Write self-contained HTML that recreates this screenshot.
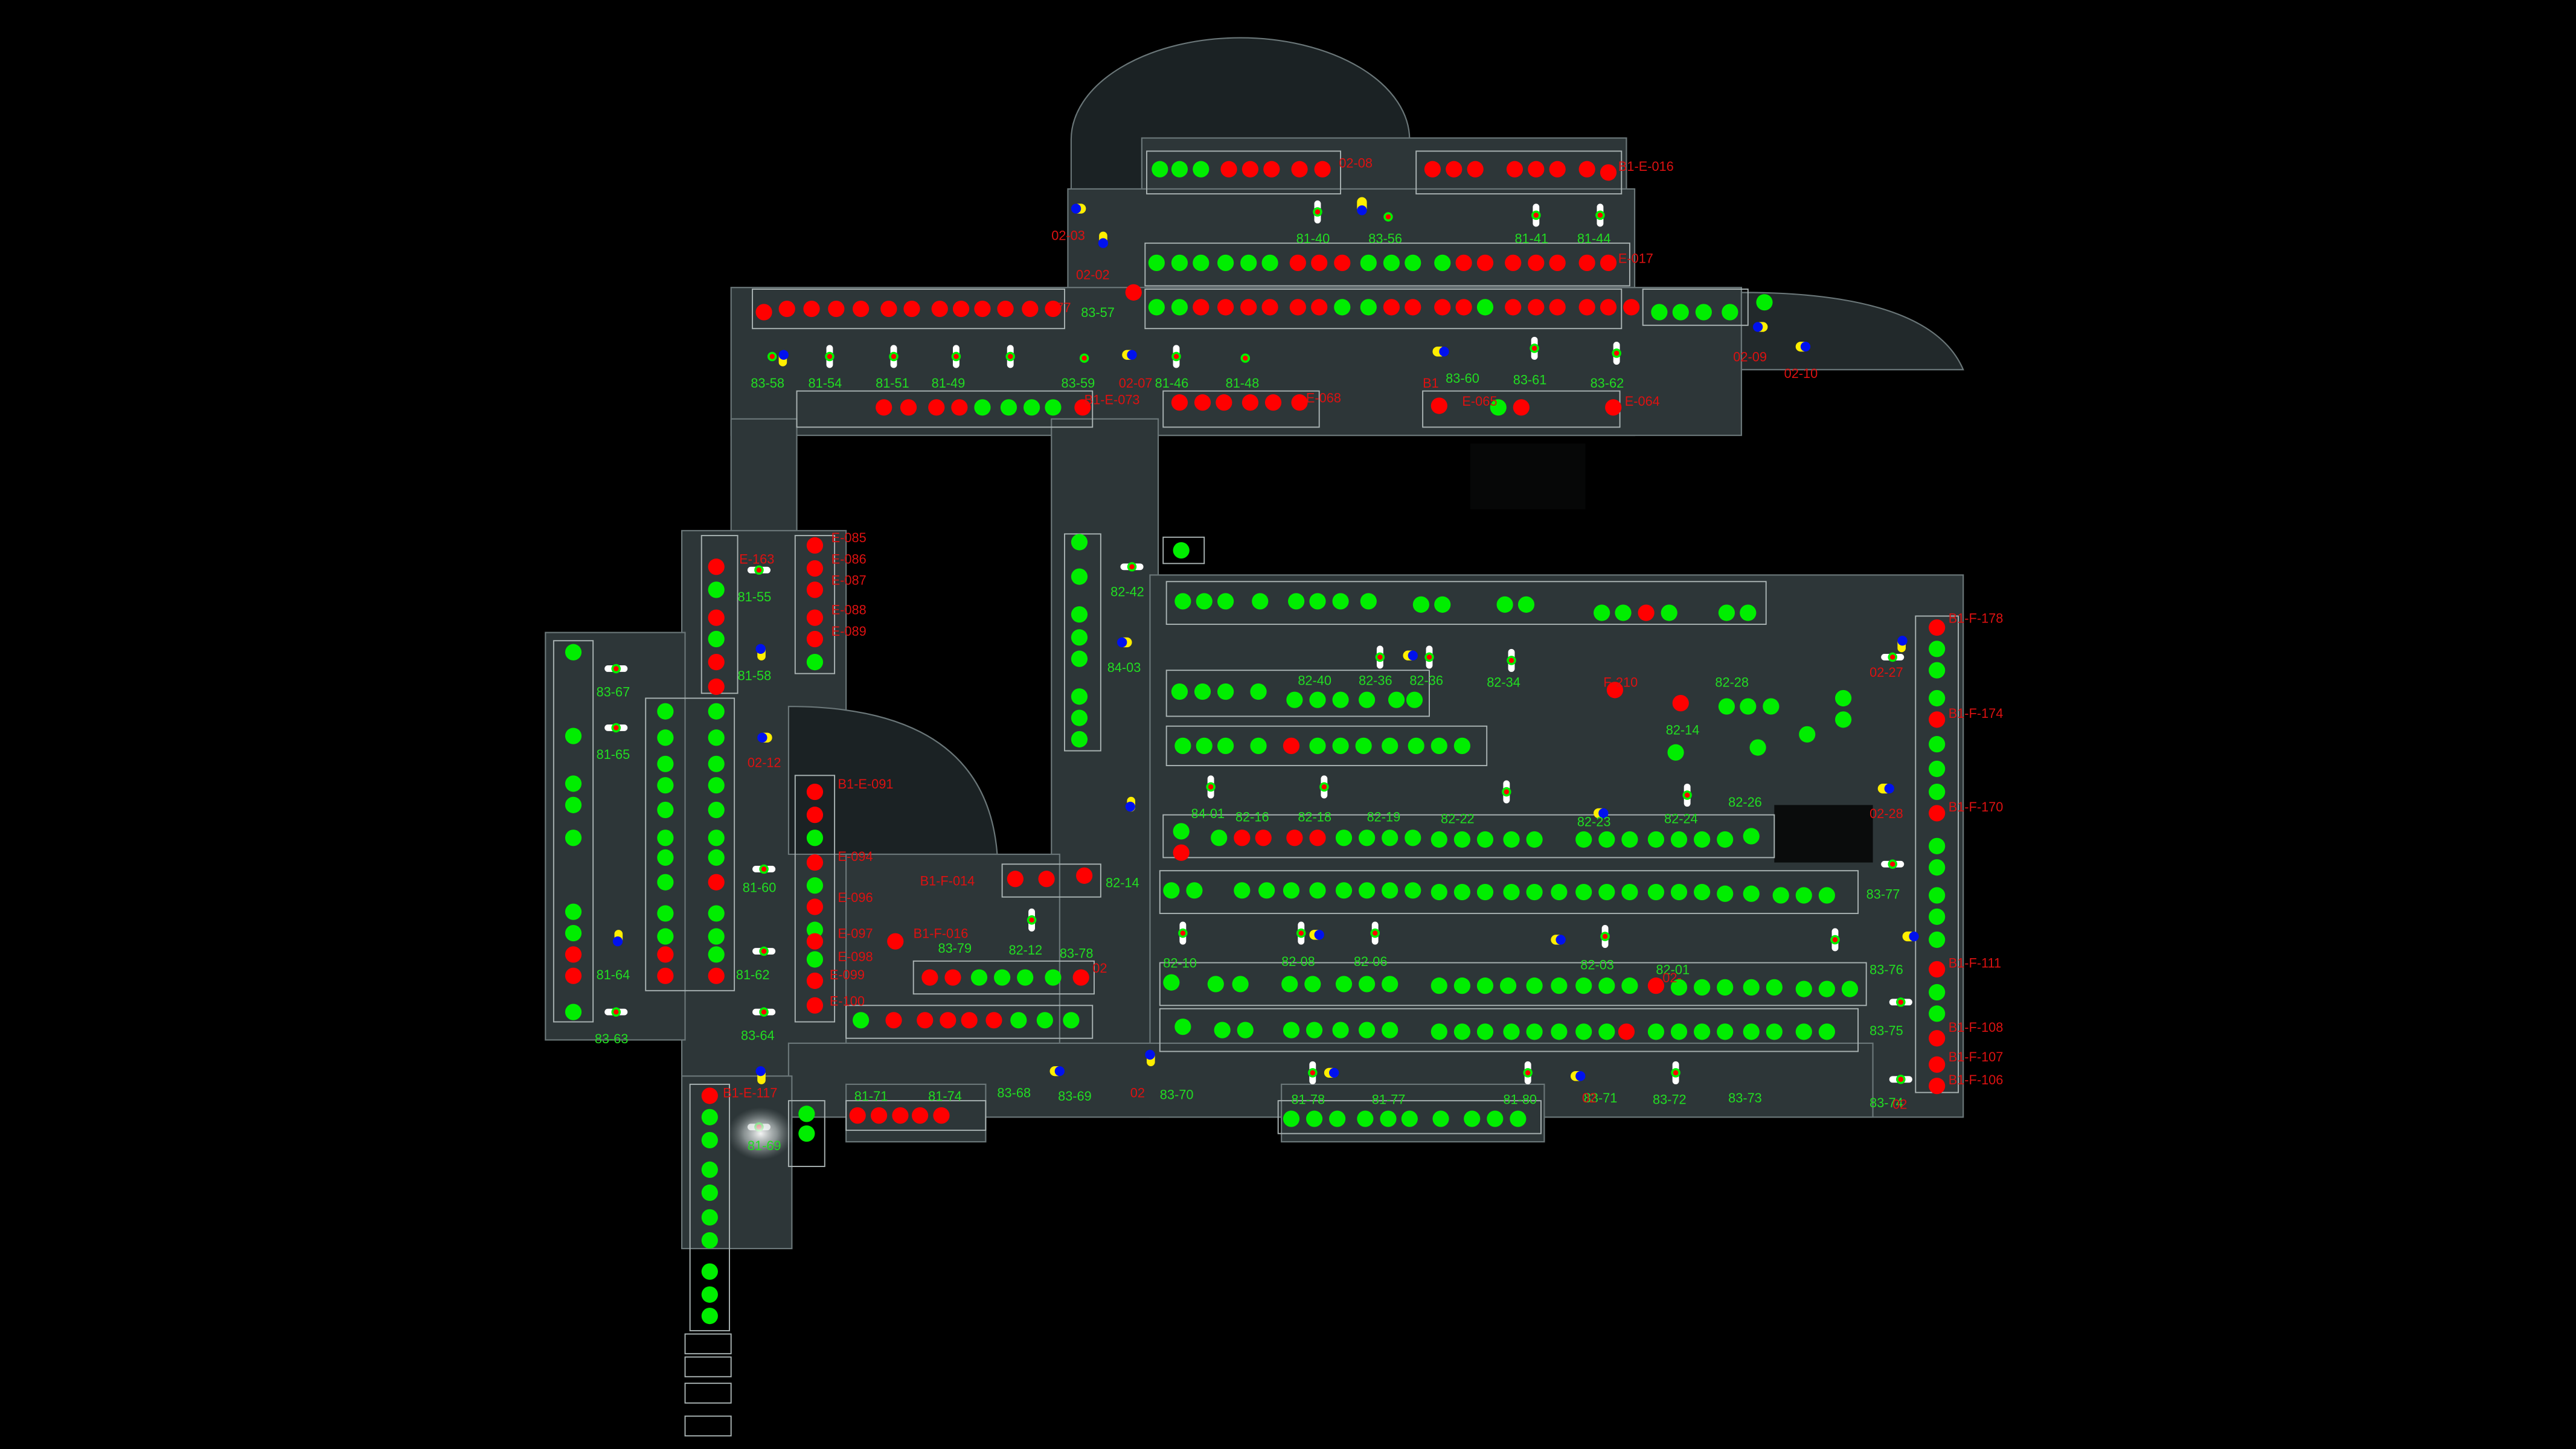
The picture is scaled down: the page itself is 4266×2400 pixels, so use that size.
<!DOCTYPE html>
<html><head><meta charset="utf-8"><style>
html,body{margin:0;padding:0;background:#000;width:4266px;height:2400px;overflow:hidden}
svg{display:block}
.g{fill:#00ee00}.r{fill:#ff0000}
.lg{fill:#22dd22;font:8px "Liberation Sans",sans-serif}
.lr{fill:#dd1111;font:8px "Liberation Sans",sans-serif}
.bx{fill:none;stroke:#aab4b4;stroke-width:0.7}
</style></head><body>
<svg width="4266" height="2400" viewBox="0 0 1568 882" preserveAspectRatio="none" xmlns="http://www.w3.org/2000/svg">
<defs><radialGradient id="glow"><stop offset="0" stop-color="#ffffff" stop-opacity="0.95"/><stop offset="0.5" stop-color="#c8d0d0" stop-opacity="0.6"/><stop offset="1" stop-color="#808888" stop-opacity="0"/></radialGradient></defs>
<rect width="1568" height="882" fill="#000"/>
<!-- floor -->
<g fill="#2d3638" stroke="#6a7678" stroke-width="0.8">
<path d="M652,140 L652,85 A103,62 0 0 1 858,85 L858,140 Z" fill="#1b2224"/>
<rect x="695" y="84" width="295" height="36"/>
<rect x="650" y="115" width="345" height="150"/>
<rect x="445" y="175" width="615" height="90"/>
<path d="M1060,178 Q1175,178 1195,225 L1060,225 Z" fill="#22292b"/>
<rect x="445" y="255" width="40" height="75"/>
<rect x="640" y="255" width="65" height="410"/>
<rect x="700" y="350" width="495" height="330"/>
<rect x="415" y="323" width="100" height="340"/>
<rect x="332" y="385" width="85" height="248"/>
<path d="M480,430 Q600,430 607,520 L480,520 Z" fill="#1b2224"/>
<rect x="515" y="520" width="130" height="120"/>
<rect x="480" y="635" width="660" height="45"/>
<rect x="515" y="660" width="85" height="35"/>
<rect x="780" y="660" width="160" height="35"/>
<rect x="415" y="655" width="67" height="105"/>
</g>
<rect x="1080" y="490" width="60" height="35" fill="#0a0c0c"/>
<rect x="895" y="270" width="70" height="40" fill="#0a0c0c" opacity="0.6"/>
<!-- bay boxes -->
<g class="bx">
<rect x="698" y="92" width="118" height="26"/><rect x="862" y="92" width="125" height="26"/>
<rect x="697" y="148" width="295" height="26"/><rect x="458" y="176" width="190" height="24"/>
<rect x="697" y="176" width="290" height="24"/><rect x="1000" y="176" width="64" height="22"/>
<rect x="485" y="238" width="180" height="22"/><rect x="708" y="238" width="95" height="22"/>
<rect x="866" y="238" width="120" height="22"/>
<rect x="427" y="326" width="22" height="96"/><rect x="484" y="326" width="24" height="84"/>
<rect x="648" y="325" width="22" height="132"/><rect x="708" y="327" width="25" height="16"/>
<rect x="710" y="354" width="365" height="26"/><rect x="710" y="408" width="160" height="28"/>
<rect x="710" y="442" width="195" height="24"/><rect x="1166" y="375" width="26" height="290"/>
<rect x="708" y="496" width="372" height="26"/><rect x="706" y="530" width="425" height="26"/>
<rect x="706" y="586" width="430" height="26"/><rect x="706" y="614" width="425" height="26"/>
<rect x="337" y="390" width="24" height="232"/><rect x="393" y="425" width="54" height="178"/>
<rect x="484" y="472" width="24" height="150"/><rect x="556" y="585" width="110" height="20"/>
<rect x="515" y="612" width="150" height="20"/><rect x="610" y="526" width="60" height="20"/>
<rect x="420" y="660" width="24" height="150"/><rect x="480" y="670" width="22" height="40"/>
<rect x="515" y="670" width="85" height="18"/><rect x="778" y="670" width="160" height="20"/>
<rect x="417" y="812" width="28" height="12"/><rect x="417" y="826" width="28" height="12"/>
<rect x="417" y="842" width="28" height="12"/><rect x="417" y="862" width="28" height="12"/>
</g>
<!-- green dots -->
<g class="g">
<circle cx="706" cy="103" r="5"/><circle cx="718" cy="103" r="5"/><circle cx="731" cy="103" r="5"/>
<circle cx="704" cy="160" r="5"/><circle cx="718" cy="160" r="5"/><circle cx="731" cy="160" r="5"/><circle cx="746" cy="160" r="5"/><circle cx="760" cy="160" r="5"/><circle cx="773" cy="160" r="5"/><circle cx="833" cy="160" r="5"/><circle cx="847" cy="160" r="5"/><circle cx="860" cy="160" r="5"/><circle cx="878" cy="160" r="5"/>
<circle cx="704" cy="187" r="5"/><circle cx="718" cy="187" r="5"/><circle cx="817" cy="187" r="5"/><circle cx="833" cy="187" r="5"/><circle cx="904" cy="187" r="5"/><circle cx="1010" cy="190" r="5"/><circle cx="1023" cy="190" r="5"/><circle cx="1037" cy="190" r="5"/><circle cx="1053" cy="190" r="5"/><circle cx="1074" cy="184" r="5"/>
<circle cx="598" cy="248" r="5"/><circle cx="614" cy="248" r="5"/><circle cx="628" cy="248" r="5"/><circle cx="641" cy="248" r="5"/><circle cx="912" cy="248" r="5"/>
<circle cx="436" cy="359" r="5"/><circle cx="436" cy="389" r="5"/><circle cx="496" cy="403" r="5"/>
<circle cx="657" cy="330" r="5"/><circle cx="657" cy="351" r="5"/><circle cx="657" cy="374" r="5"/><circle cx="657" cy="388" r="5"/><circle cx="657" cy="401" r="5"/><circle cx="657" cy="424" r="5"/><circle cx="657" cy="437" r="5"/><circle cx="657" cy="450" r="5"/><circle cx="719" cy="335" r="5"/>
<circle cx="720" cy="366" r="5"/><circle cx="733" cy="366" r="5"/><circle cx="746" cy="366" r="5"/><circle cx="767" cy="366" r="5"/><circle cx="789" cy="366" r="5"/><circle cx="802" cy="366" r="5"/><circle cx="816" cy="366" r="5"/><circle cx="833" cy="366" r="5"/><circle cx="865" cy="368" r="5"/><circle cx="878" cy="368" r="5"/><circle cx="916" cy="368" r="5"/><circle cx="929" cy="368" r="5"/><circle cx="975" cy="373" r="5"/><circle cx="988" cy="373" r="5"/><circle cx="1016" cy="373" r="5"/><circle cx="1051" cy="373" r="5"/><circle cx="1064" cy="373" r="5"/>
<circle cx="718" cy="421" r="5"/><circle cx="732" cy="421" r="5"/><circle cx="746" cy="421" r="5"/><circle cx="766" cy="421" r="5"/><circle cx="788" cy="426" r="5"/><circle cx="802" cy="426" r="5"/><circle cx="816" cy="426" r="5"/><circle cx="832" cy="426" r="5"/><circle cx="850" cy="426" r="5"/><circle cx="861" cy="426" r="5"/>
<circle cx="1051" cy="430" r="5"/><circle cx="1064" cy="430" r="5"/><circle cx="1078" cy="430" r="5"/><circle cx="1122" cy="425" r="5"/><circle cx="1122" cy="438" r="5"/>
<circle cx="720" cy="454" r="5"/><circle cx="733" cy="454" r="5"/><circle cx="746" cy="454" r="5"/><circle cx="766" cy="454" r="5"/><circle cx="802" cy="454" r="5"/><circle cx="816" cy="454" r="5"/><circle cx="830" cy="454" r="5"/><circle cx="846" cy="454" r="5"/><circle cx="862" cy="454" r="5"/><circle cx="876" cy="454" r="5"/><circle cx="890" cy="454" r="5"/><circle cx="1020" cy="458" r="5"/><circle cx="1070" cy="455" r="5"/><circle cx="1100" cy="447" r="5"/>
<circle cx="1179" cy="395" r="5"/><circle cx="1179" cy="408" r="5"/><circle cx="1179" cy="425" r="5"/><circle cx="1179" cy="453" r="5"/><circle cx="1179" cy="468" r="5"/><circle cx="1179" cy="482" r="5"/><circle cx="1179" cy="515" r="5"/><circle cx="1179" cy="528" r="5"/><circle cx="1179" cy="545" r="5"/><circle cx="1179" cy="558" r="5"/><circle cx="1179" cy="572" r="5"/><circle cx="1179" cy="604" r="5"/><circle cx="1179" cy="617" r="5"/>
<circle cx="719" cy="506" r="5"/><circle cx="742" cy="510" r="5"/><circle cx="818" cy="510" r="5"/><circle cx="832" cy="510" r="5"/><circle cx="846" cy="510" r="5"/><circle cx="860" cy="510" r="5"/><circle cx="876" cy="511" r="5"/><circle cx="890" cy="511" r="5"/><circle cx="904" cy="511" r="5"/><circle cx="920" cy="511" r="5"/><circle cx="934" cy="511" r="5"/><circle cx="964" cy="511" r="5"/><circle cx="978" cy="511" r="5"/><circle cx="992" cy="511" r="5"/><circle cx="1008" cy="511" r="5"/><circle cx="1022" cy="511" r="5"/><circle cx="1036" cy="511" r="5"/><circle cx="1050" cy="511" r="5"/><circle cx="1066" cy="509" r="5"/>
<circle cx="713" cy="542" r="5"/><circle cx="727" cy="542" r="5"/><circle cx="756" cy="542" r="5"/><circle cx="771" cy="542" r="5"/><circle cx="786" cy="542" r="5"/><circle cx="802" cy="542" r="5"/><circle cx="818" cy="542" r="5"/><circle cx="832" cy="542" r="5"/><circle cx="846" cy="542" r="5"/><circle cx="860" cy="542" r="5"/><circle cx="876" cy="543" r="5"/><circle cx="890" cy="543" r="5"/><circle cx="904" cy="543" r="5"/><circle cx="920" cy="543" r="5"/><circle cx="934" cy="543" r="5"/><circle cx="949" cy="543" r="5"/><circle cx="964" cy="543" r="5"/><circle cx="978" cy="543" r="5"/><circle cx="992" cy="543" r="5"/><circle cx="1008" cy="543" r="5"/><circle cx="1022" cy="543" r="5"/><circle cx="1036" cy="543" r="5"/><circle cx="1050" cy="544" r="5"/><circle cx="1066" cy="544" r="5"/><circle cx="1084" cy="545" r="5"/><circle cx="1098" cy="545" r="5"/><circle cx="1112" cy="545" r="5"/>
<circle cx="713" cy="598" r="5"/><circle cx="740" cy="599" r="5"/><circle cx="755" cy="599" r="5"/><circle cx="785" cy="599" r="5"/><circle cx="799" cy="599" r="5"/><circle cx="818" cy="599" r="5"/><circle cx="832" cy="599" r="5"/><circle cx="846" cy="599" r="5"/><circle cx="876" cy="600" r="5"/><circle cx="890" cy="600" r="5"/><circle cx="904" cy="600" r="5"/><circle cx="918" cy="600" r="5"/><circle cx="934" cy="600" r="5"/><circle cx="949" cy="600" r="5"/><circle cx="964" cy="600" r="5"/><circle cx="978" cy="600" r="5"/><circle cx="992" cy="600" r="5"/><circle cx="1022" cy="601" r="5"/><circle cx="1036" cy="601" r="5"/><circle cx="1050" cy="601" r="5"/><circle cx="1066" cy="601" r="5"/><circle cx="1080" cy="601" r="5"/><circle cx="1098" cy="602" r="5"/><circle cx="1112" cy="602" r="5"/><circle cx="1126" cy="602" r="5"/>
<circle cx="720" cy="625" r="5"/><circle cx="744" cy="627" r="5"/><circle cx="758" cy="627" r="5"/><circle cx="786" cy="627" r="5"/><circle cx="800" cy="627" r="5"/><circle cx="816" cy="627" r="5"/><circle cx="832" cy="627" r="5"/><circle cx="846" cy="627" r="5"/><circle cx="876" cy="628" r="5"/><circle cx="890" cy="628" r="5"/><circle cx="904" cy="628" r="5"/><circle cx="920" cy="628" r="5"/><circle cx="934" cy="628" r="5"/><circle cx="949" cy="628" r="5"/><circle cx="964" cy="628" r="5"/><circle cx="978" cy="628" r="5"/><circle cx="1008" cy="628" r="5"/><circle cx="1022" cy="628" r="5"/><circle cx="1036" cy="628" r="5"/><circle cx="1050" cy="628" r="5"/><circle cx="1066" cy="628" r="5"/><circle cx="1080" cy="628" r="5"/><circle cx="1098" cy="628" r="5"/><circle cx="1112" cy="628" r="5"/>
<circle cx="349" cy="397" r="5"/><circle cx="349" cy="448" r="5"/><circle cx="349" cy="477" r="5"/><circle cx="349" cy="490" r="5"/><circle cx="349" cy="510" r="5"/><circle cx="349" cy="555" r="5"/><circle cx="349" cy="568" r="5"/><circle cx="349" cy="616" r="5"/>
<circle cx="405" cy="433" r="5"/><circle cx="405" cy="449" r="5"/><circle cx="405" cy="465" r="5"/><circle cx="405" cy="478" r="5"/><circle cx="405" cy="493" r="5"/><circle cx="405" cy="510" r="5"/><circle cx="405" cy="522" r="5"/><circle cx="405" cy="537" r="5"/><circle cx="405" cy="556" r="5"/><circle cx="405" cy="570" r="5"/>
<circle cx="436" cy="433" r="5"/><circle cx="436" cy="449" r="5"/><circle cx="436" cy="465" r="5"/><circle cx="436" cy="478" r="5"/><circle cx="436" cy="493" r="5"/><circle cx="436" cy="510" r="5"/><circle cx="436" cy="522" r="5"/><circle cx="436" cy="556" r="5"/><circle cx="436" cy="570" r="5"/><circle cx="436" cy="581" r="5"/>
<circle cx="496" cy="510" r="5"/><circle cx="496" cy="539" r="5"/><circle cx="496" cy="566" r="5"/><circle cx="496" cy="584" r="5"/>
<circle cx="596" cy="595" r="5"/><circle cx="610" cy="595" r="5"/><circle cx="624" cy="595" r="5"/><circle cx="641" cy="595" r="5"/>
<circle cx="524" cy="621" r="5"/><circle cx="620" cy="621" r="5"/><circle cx="636" cy="621" r="5"/><circle cx="652" cy="621" r="5"/>
<circle cx="432" cy="680" r="5"/><circle cx="432" cy="694" r="5"/><circle cx="432" cy="712" r="5"/><circle cx="432" cy="726" r="5"/><circle cx="432" cy="741" r="5"/><circle cx="432" cy="755" r="5"/><circle cx="432" cy="774" r="5"/><circle cx="432" cy="788" r="5"/><circle cx="432" cy="801" r="5"/><circle cx="491" cy="678" r="5"/><circle cx="491" cy="690" r="5"/>
<circle cx="786" cy="681" r="5"/><circle cx="800" cy="681" r="5"/><circle cx="814" cy="681" r="5"/><circle cx="831" cy="681" r="5"/><circle cx="845" cy="681" r="5"/><circle cx="858" cy="681" r="5"/><circle cx="877" cy="681" r="5"/><circle cx="896" cy="681" r="5"/><circle cx="910" cy="681" r="5"/><circle cx="924" cy="681" r="5"/>
</g>
<!-- red dots -->
<g class="r">
<circle cx="748" cy="103" r="5"/><circle cx="761" cy="103" r="5"/><circle cx="774" cy="103" r="5"/><circle cx="791" cy="103" r="5"/><circle cx="805" cy="103" r="5"/><circle cx="872" cy="103" r="5"/><circle cx="885" cy="103" r="5"/><circle cx="898" cy="103" r="5"/><circle cx="922" cy="103" r="5"/><circle cx="935" cy="103" r="5"/><circle cx="948" cy="103" r="5"/><circle cx="966" cy="103" r="5"/><circle cx="979" cy="105" r="5"/>
<circle cx="790" cy="160" r="5"/><circle cx="803" cy="160" r="5"/><circle cx="817" cy="160" r="5"/><circle cx="891" cy="160" r="5"/><circle cx="904" cy="160" r="5"/><circle cx="921" cy="160" r="5"/><circle cx="935" cy="160" r="5"/><circle cx="948" cy="160" r="5"/><circle cx="966" cy="160" r="5"/><circle cx="979" cy="160" r="5"/>
<circle cx="465" cy="190" r="5"/><circle cx="479" cy="188" r="5"/><circle cx="494" cy="188" r="5"/><circle cx="509" cy="188" r="5"/><circle cx="524" cy="188" r="5"/><circle cx="541" cy="188" r="5"/><circle cx="555" cy="188" r="5"/><circle cx="572" cy="188" r="5"/><circle cx="585" cy="188" r="5"/><circle cx="598" cy="188" r="5"/><circle cx="612" cy="188" r="5"/><circle cx="627" cy="188" r="5"/><circle cx="641" cy="188" r="5"/><circle cx="690" cy="178" r="5"/>
<circle cx="731" cy="187" r="5"/><circle cx="746" cy="187" r="5"/><circle cx="760" cy="187" r="5"/><circle cx="773" cy="187" r="5"/><circle cx="790" cy="187" r="5"/><circle cx="803" cy="187" r="5"/><circle cx="847" cy="187" r="5"/><circle cx="860" cy="187" r="5"/><circle cx="878" cy="187" r="5"/><circle cx="891" cy="187" r="5"/><circle cx="921" cy="187" r="5"/><circle cx="935" cy="187" r="5"/><circle cx="948" cy="187" r="5"/><circle cx="966" cy="187" r="5"/><circle cx="979" cy="187" r="5"/><circle cx="993" cy="187" r="5"/>
<circle cx="538" cy="248" r="5"/><circle cx="553" cy="248" r="5"/><circle cx="570" cy="248" r="5"/><circle cx="584" cy="248" r="5"/><circle cx="659" cy="248" r="5"/><circle cx="718" cy="245" r="5"/><circle cx="732" cy="245" r="5"/><circle cx="745" cy="245" r="5"/><circle cx="761" cy="245" r="5"/><circle cx="775" cy="245" r="5"/><circle cx="791" cy="245" r="5"/><circle cx="876" cy="247" r="5"/><circle cx="926" cy="248" r="5"/><circle cx="982" cy="248" r="5"/>
<circle cx="436" cy="345" r="5"/><circle cx="436" cy="376" r="5"/><circle cx="436" cy="403" r="5"/><circle cx="436" cy="418" r="5"/>
<circle cx="496" cy="332" r="5"/><circle cx="496" cy="346" r="5"/><circle cx="496" cy="359" r="5"/><circle cx="496" cy="376" r="5"/><circle cx="496" cy="389" r="5"/>
<circle cx="1002" cy="373" r="5"/><circle cx="983" cy="420" r="5"/><circle cx="1023" cy="428" r="5"/><circle cx="786" cy="454" r="5"/>
<circle cx="1179" cy="382" r="5"/><circle cx="1179" cy="438" r="5"/><circle cx="1179" cy="495" r="5"/><circle cx="1179" cy="590" r="5"/><circle cx="1179" cy="632" r="5"/><circle cx="1179" cy="648" r="5"/><circle cx="1179" cy="661" r="5"/>
<circle cx="756" cy="510" r="5"/><circle cx="769" cy="510" r="5"/><circle cx="788" cy="510" r="5"/><circle cx="802" cy="510" r="5"/><circle cx="719" cy="519" r="5"/>
<circle cx="1008" cy="600" r="5"/><circle cx="990" cy="628" r="5"/>
<circle cx="349" cy="581" r="5"/><circle cx="349" cy="594" r="5"/><circle cx="405" cy="581" r="5"/><circle cx="405" cy="594" r="5"/><circle cx="436" cy="537" r="5"/><circle cx="436" cy="594" r="5"/>
<circle cx="496" cy="482" r="5"/><circle cx="496" cy="496" r="5"/><circle cx="496" cy="525" r="5"/><circle cx="496" cy="552" r="5"/><circle cx="496" cy="573" r="5"/><circle cx="496" cy="597" r="5"/><circle cx="496" cy="612" r="5"/><circle cx="545" cy="573" r="5"/>
<circle cx="566" cy="595" r="5"/><circle cx="580" cy="595" r="5"/><circle cx="658" cy="595" r="5"/>
<circle cx="544" cy="621" r="5"/><circle cx="563" cy="621" r="5"/><circle cx="577" cy="621" r="5"/><circle cx="590" cy="621" r="5"/><circle cx="605" cy="621" r="5"/>
<circle cx="618" cy="535" r="5"/><circle cx="637" cy="535" r="5"/><circle cx="660" cy="533" r="5"/>
<circle cx="432" cy="667" r="5"/><circle cx="522" cy="679" r="5"/><circle cx="535" cy="679" r="5"/><circle cx="548" cy="679" r="5"/><circle cx="560" cy="679" r="5"/><circle cx="573" cy="679" r="5"/>
</g>
<!-- markers: white pill + green ring/red dot -->
<g>
<g fill="#fff"><rect x="800" y="122" width="4" height="14" rx="2"/><rect x="933" y="124" width="4" height="14" rx="2"/><rect x="972" y="124" width="4" height="14" rx="2"/><rect x="503" y="210" width="4" height="14" rx="2"/><rect x="542" y="210" width="4" height="14" rx="2"/><rect x="580" y="210" width="4" height="14" rx="2"/><rect x="613" y="210" width="4" height="14" rx="2"/><rect x="714" y="210" width="4" height="14" rx="2"/><rect x="932" y="205" width="4" height="14" rx="2"/><rect x="982" y="208" width="4" height="14" rx="2"/><rect x="682" y="343" width="14" height="4" rx="2"/><rect x="455" y="345" width="14" height="4" rx="2"/><rect x="368" y="405" width="14" height="4" rx="2"/><rect x="838" y="393" width="4" height="14" rx="2"/><rect x="868" y="393" width="4" height="14" rx="2"/><rect x="918" y="395" width="4" height="14" rx="2"/><rect x="735" y="472" width="4" height="14" rx="2"/><rect x="804" y="472" width="4" height="14" rx="2"/><rect x="915" y="475" width="4" height="14" rx="2"/><rect x="1025" y="477" width="4" height="14" rx="2"/><rect x="718" y="561" width="4" height="14" rx="2"/><rect x="790" y="561" width="4" height="14" rx="2"/><rect x="835" y="561" width="4" height="14" rx="2"/><rect x="975" y="563" width="4" height="14" rx="2"/><rect x="1115" y="565" width="4" height="14" rx="2"/><rect x="797" y="646" width="4" height="14" rx="2"/><rect x="928" y="646" width="4" height="14" rx="2"/><rect x="1018" y="646" width="4" height="14" rx="2"/><rect x="626" y="553" width="4" height="14" rx="2"/><rect x="458" y="577" width="14" height="4" rx="2"/><rect x="458" y="527" width="14" height="4" rx="2"/><rect x="458" y="614" width="14" height="4" rx="2"/><rect x="368" y="614" width="14" height="4" rx="2"/><rect x="368" y="441" width="14" height="4" rx="2"/><rect x="455" y="684" width="14" height="4" rx="2"/><rect x="1145" y="398" width="14" height="4" rx="2"/><rect x="1145" y="524" width="14" height="4" rx="2"/><rect x="1150" y="655" width="14" height="4" rx="2"/><rect x="1150" y="608" width="14" height="4" rx="2"/></g>
<g fill="#ff0000" stroke="#00ee00" stroke-width="1.3"><circle cx="802" cy="129" r="2.2"/><circle cx="935" cy="131" r="2.2"/><circle cx="974" cy="131" r="2.2"/><circle cx="505" cy="217" r="2.2"/><circle cx="544" cy="217" r="2.2"/><circle cx="582" cy="217" r="2.2"/><circle cx="615" cy="217" r="2.2"/><circle cx="716" cy="217" r="2.2"/><circle cx="934" cy="212" r="2.2"/><circle cx="984" cy="215" r="2.2"/><circle cx="689" cy="345" r="2.2"/><circle cx="462" cy="347" r="2.2"/><circle cx="375" cy="407" r="2.2"/><circle cx="840" cy="400" r="2.2"/><circle cx="870" cy="400" r="2.2"/><circle cx="920" cy="402" r="2.2"/><circle cx="737" cy="479" r="2.2"/><circle cx="806" cy="479" r="2.2"/><circle cx="917" cy="482" r="2.2"/><circle cx="1027" cy="484" r="2.2"/><circle cx="720" cy="568" r="2.2"/><circle cx="792" cy="568" r="2.2"/><circle cx="837" cy="568" r="2.2"/><circle cx="977" cy="570" r="2.2"/><circle cx="1117" cy="572" r="2.2"/><circle cx="799" cy="653" r="2.2"/><circle cx="930" cy="653" r="2.2"/><circle cx="1020" cy="653" r="2.2"/><circle cx="628" cy="560" r="2.2"/><circle cx="465" cy="579" r="2.2"/><circle cx="465" cy="529" r="2.2"/><circle cx="465" cy="616" r="2.2"/><circle cx="375" cy="616" r="2.2"/><circle cx="375" cy="443" r="2.2"/><circle cx="462" cy="686" r="2.2"/><circle cx="1152" cy="400" r="2.2"/><circle cx="1152" cy="526" r="2.2"/><circle cx="1157" cy="657" r="2.2"/><circle cx="1157" cy="610" r="2.2"/><circle cx="660" cy="218" r="2.2"/><circle cx="758" cy="218" r="2.2"/><circle cx="845" cy="132" r="2.2"/><circle cx="470" cy="217" r="2.2"/></g>
<!-- yellow/blue -->
<g><rect x="653" y="124" width="8" height="6" rx="3" fill="#ffee00"/><circle cx="655" cy="127" r="3" fill="#0011ee"/>
<rect x="669" y="141" width="5" height="9" rx="2.5" fill="#ffee00"/><circle cx="671.5" cy="148" r="3" fill="#0011ee"/>
<rect x="826" y="120" width="6" height="10" rx="3" fill="#ffee00"/><circle cx="829" cy="128" r="3" fill="#0011ee"/>
<rect x="683" y="213" width="8" height="6" rx="3" fill="#ffee00"/><circle cx="689" cy="216" r="3" fill="#0011ee"/>
<rect x="872" y="211" width="8" height="6" rx="3" fill="#ffee00"/><circle cx="879" cy="214" r="3" fill="#0011ee"/>
<rect x="1068" y="196" width="8" height="6" rx="3" fill="#ffee00"/><circle cx="1070" cy="199" r="3" fill="#0011ee"/>
<rect x="1093" y="208" width="8" height="6" rx="3" fill="#ffee00"/><circle cx="1099" cy="211" r="3" fill="#0011ee"/>
<rect x="474" y="214" width="5" height="9" rx="2.5" fill="#ffee00"/><circle cx="477" cy="216" r="3" fill="#0011ee"/>
<rect x="681" y="388" width="8" height="6" rx="3" fill="#ffee00"/><circle cx="683" cy="391" r="3" fill="#0011ee"/>
<rect x="854" y="396" width="8" height="6" rx="3" fill="#ffee00"/><circle cx="860" cy="399" r="3" fill="#0011ee"/>
<rect x="462" y="446" width="8" height="6" rx="3" fill="#ffee00"/><circle cx="464" cy="449" r="3" fill="#0011ee"/>
<rect x="461" y="393" width="5" height="9" rx="2.5" fill="#ffee00"/><circle cx="463" cy="395" r="3" fill="#0011ee"/>
<rect x="686" y="485" width="5" height="9" rx="2.5" fill="#ffee00"/><circle cx="688" cy="491" r="3" fill="#0011ee"/>
<rect x="970" y="492" width="8" height="6" rx="3" fill="#ffee00"/><circle cx="976" cy="495" r="3" fill="#0011ee"/>
<rect x="797" y="566" width="8" height="6" rx="3" fill="#ffee00"/><circle cx="803" cy="569" r="3" fill="#0011ee"/>
<rect x="944" y="569" width="8" height="6" rx="3" fill="#ffee00"/><circle cx="950" cy="572" r="3" fill="#0011ee"/>
<rect x="374" y="566" width="5" height="9" rx="2.5" fill="#ffee00"/><circle cx="376" cy="573" r="3" fill="#0011ee"/>
<rect x="639" y="649" width="8" height="6" rx="3" fill="#ffee00"/><circle cx="645" cy="652" r="3" fill="#0011ee"/>
<rect x="806" y="650" width="8" height="6" rx="3" fill="#ffee00"/><circle cx="812" cy="653" r="3" fill="#0011ee"/>
<rect x="956" y="652" width="8" height="6" rx="3" fill="#ffee00"/><circle cx="962" cy="655" r="3" fill="#0011ee"/>
<rect x="461" y="651" width="5" height="9" rx="2.5" fill="#ffee00"/><circle cx="463" cy="652" r="3" fill="#0011ee"/>
<rect x="1155" y="388" width="5" height="9" rx="2.5" fill="#ffee00"/><circle cx="1158" cy="390" r="3" fill="#0011ee"/>
<rect x="1143" y="477" width="8" height="6" rx="3" fill="#ffee00"/><circle cx="1150" cy="480" r="3" fill="#0011ee"/>
<rect x="1158" y="567" width="8" height="6" rx="3" fill="#ffee00"/><circle cx="1165" cy="570" r="3" fill="#0011ee"/>
<rect x="698" y="640" width="5" height="9" rx="2.5" fill="#ffee00"/><circle cx="700" cy="642" r="3" fill="#0011ee"/>
</g>
</g>
<!-- bright spot -->
<ellipse cx="463" cy="690" rx="20" ry="16" fill="url(#glow)"/>
<!-- labels -->
<g class="lg">
<text x="789" y="148">81-40</text><text x="833" y="148">83-56</text><text x="922" y="148">81-41</text><text x="960" y="148">81-44</text>
<text x="658" y="193">83-57</text><text x="457" y="236">83-58</text><text x="492" y="236">81-54</text><text x="533" y="236">81-51</text><text x="567" y="236">81-49</text><text x="646" y="236">83-59</text><text x="703" y="236">81-46</text><text x="746" y="236">81-48</text><text x="880" y="233">83-60</text><text x="921" y="234">83-61</text><text x="968" y="236">83-62</text>
<text x="449" y="366">81-55</text><text x="449" y="414">81-58</text><text x="363" y="424">83-67</text><text x="363" y="462">81-65</text><text x="676" y="363">82-42</text><text x="674" y="409">84-03</text>
<text x="790" y="417">82-40</text><text x="827" y="417">82-36</text><text x="858" y="417">82-36</text><text x="905" y="418">82-34</text><text x="1044" y="418">82-28</text><text x="1014" y="447">82-14</text>
<text x="725" y="498">84-01</text><text x="752" y="500">82-16</text><text x="790" y="500">82-18</text><text x="832" y="500">82-19</text><text x="877" y="501">82-22</text><text x="960" y="503">82-23</text><text x="1013" y="501">82-24</text><text x="1052" y="491">82-26</text>
<text x="452" y="543">81-60</text><text x="673" y="540">82-14</text><text x="1136" y="547">83-77</text><text x="571" y="580">83-79</text><text x="614" y="581">82-12</text><text x="645" y="583">83-78</text><text x="708" y="589">82-10</text><text x="780" y="588">82-08</text><text x="824" y="588">82-06</text><text x="962" y="590">82-03</text><text x="1008" y="593">82-01</text><text x="1138" y="593">83-76</text><text x="1138" y="630">83-75</text>
<text x="448" y="596">81-62</text><text x="363" y="596">81-64</text><text x="362" y="635">83-63</text><text x="451" y="633">83-64</text>
<text x="520" y="670">81-71</text><text x="565" y="670">81-74</text><text x="607" y="668">83-68</text><text x="644" y="670">83-69</text><text x="706" y="669">83-70</text><text x="786" y="672">81-78</text><text x="835" y="672">81-77</text><text x="915" y="672">81-80</text><text x="964" y="671">83-71</text><text x="1006" y="672">83-72</text><text x="1052" y="671">83-73</text><text x="1138" y="674">83-74</text><text x="455" y="700">81-69</text>
</g>
<g class="lr">
<text x="815" y="102">02-08</text><text x="985" y="104">B1-E-016</text><text x="985" y="160">E-017</text><text x="640" y="146">02-03</text><text x="655" y="170">02-02</text><text x="643" y="190">77</text>
<text x="681" y="236">02-07</text><text x="795" y="245">E-068</text><text x="660" y="246">B1-E-073</text><text x="866" y="236">B1</text><text x="890" y="247">E-065</text><text x="989" y="247">E-064</text>
<text x="1055" y="220">02-09</text><text x="1086" y="230">02-10</text>
<text x="506" y="330">E-085</text><text x="506" y="343">E-086</text><text x="506" y="356">E-087</text><text x="506" y="374">E-088</text><text x="506" y="387">E-089</text><text x="450" y="343">E-163</text><text x="455" y="467">02-12</text>
<text x="510" y="480">B1-E-091</text><text x="510" y="524">E-094</text><text x="510" y="549">E-096</text><text x="510" y="571">E-097</text><text x="510" y="585">E-098</text><text x="505" y="596">E-099</text><text x="505" y="612">E-100</text><text x="560" y="539">B1-F-014</text><text x="556" y="571">B1-F-016</text><text x="665" y="592">02</text>
<text x="1186" y="379">B1-F-178</text><text x="1186" y="437">B1-F-174</text><text x="1186" y="494">B1-F-170</text><text x="1138" y="498">02-28</text><text x="1138" y="412">02-27</text><text x="1186" y="589">B1-F-111</text><text x="1186" y="628">B1-F-108</text><text x="1186" y="646">B1-F-107</text><text x="1186" y="660">B1-F-106</text><text x="1152" y="675">02</text>
<text x="976" y="418">F-210</text><text x="440" y="668">B1-E-117</text><text x="963" y="671">02</text><text x="688" y="668">02</text><text x="1012" y="598">02-</text>
</g>
</svg>
</body></html>
